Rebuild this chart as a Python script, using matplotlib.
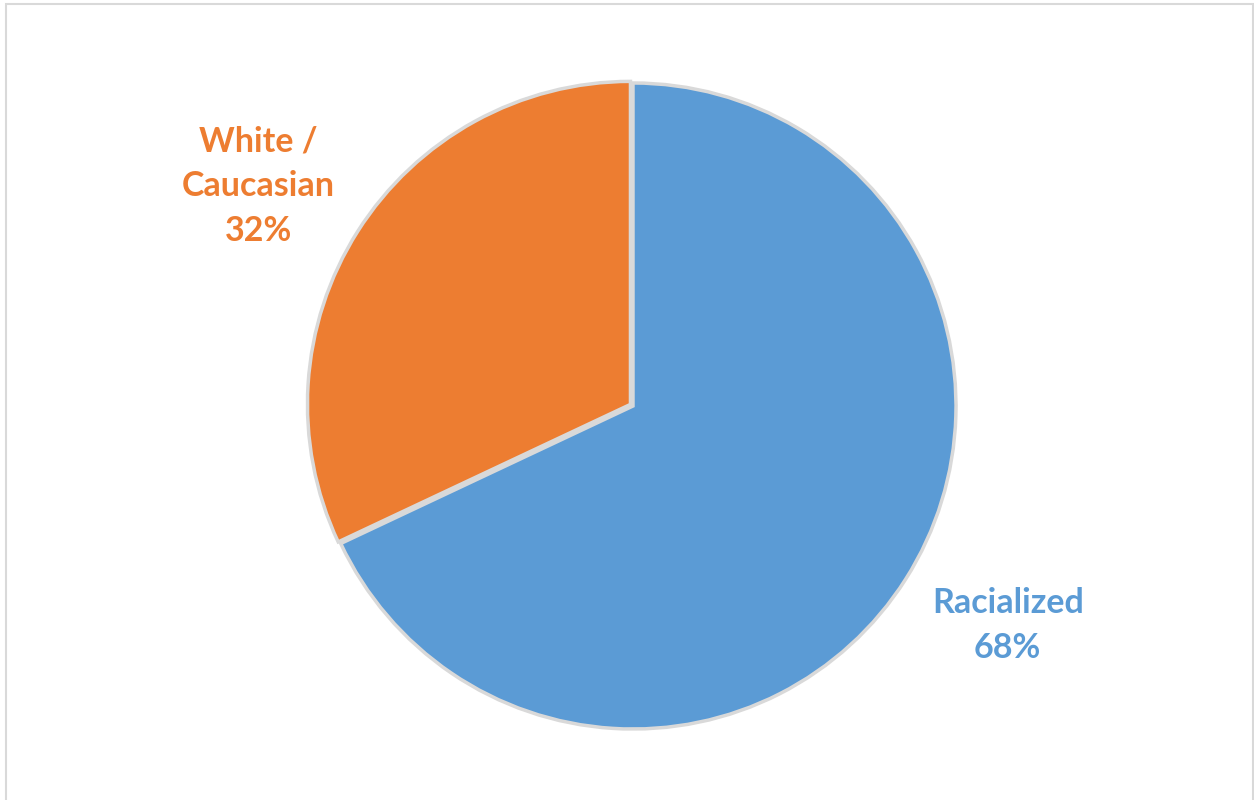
import numpy as np
import matplotlib.pyplot as plt
from matplotlib.patches import Rectangle

# data
labels = ['Racialized', 'White /\nCaucasian']
values = [68, 32]
colors = ['#5B9BD5', '#ED7D31']

W, H = 1254, 800
fig = plt.figure(figsize=(W / 100, H / 100), dpi=100)
ax = fig.add_axes([0, 0, 1, 1])

# chart area border
ax.add_patch(Rectangle((6, -5), W - 7, H - 4 + 5, fill=False,
                       edgecolor='#d9d9d9', linewidth=1.5))

cx, cy, R = 633, 394, 323
wedges, texts, autotexts = ax.pie(
    values, colors=colors, startangle=90, counterclock=False,
    center=(cx, cy), radius=R, explode=[0, 3],
    labels=labels, labeldistance=1.34,
    autopct='%d%%', pctdistance=1.34,
    wedgeprops=dict(edgecolor='#d9d9d9', linewidth=2.5),
    frame=True)
ax.set_xlim(0, W)
ax.set_ylim(0, H)
ax.set_aspect('equal')
ax.axis('off')

for w, t, a, c in zip(wedges, texts, autotexts, colors):
    # Excel places the labels a little further round than the wedge middle
    ang = np.deg2rad((w.theta1 + w.theta2) / 2 + 2)
    t.set_position((cx + 1.345 * R * np.cos(ang), cy + 1.345 * R * np.sin(ang)))
    t.set_text(t.get_text() + '\n' + a.get_text())
    a.set_visible(False)
    t.set_ha('center')
    t.set_va('center')
    t.set_linespacing(1.5)
    t.set_fontsize(24.5)
    t.set_fontweight('bold')
    t.set_fontfamily('Lato')
    t.set_color(c)

fig.savefig('out.png', dpi=100)
